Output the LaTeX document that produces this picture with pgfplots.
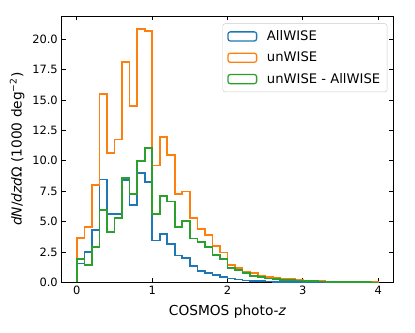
\documentclass[border=0pt]{standalone}
\usepackage{fontspec}
\setmainfont{DejaVu Sans}
\usepackage{pgfplots}
\pgfplotsset{compat=1.18}

\definecolor{tabblue}{HTML}{1F77B4}
\definecolor{taborange}{HTML}{FF7F0E}
\definecolor{tabgreen}{HTML}{2CA02C}

% histogram outlines: bin left edge, height (bins of 0.1)
\pgfplotsset{histline/.style={const plot mark left, no markers, line width=1.5pt}}

\begin{document}
\begin{tikzpicture}
  \begin{axis}[
      scale only axis,
      width=289.6pt, height=232.75pt,
      xmin=-0.2, xmax=4.2,
      ymin=0, ymax=21.9,
      xtick={0,1,2,3,4},
      ytick={0,2.5,5,7.5,10,12.5,15,17.5,20},
      tick align=inside, tick pos=both,
      major tick length=3.5pt,
      tick style={black, line width=0.7pt},
      axis line style={line width=0.7pt},
      /pgf/number format/assume math mode=true,
      yticklabel style={/pgf/number format/.cd, fixed, fixed zerofill, precision=1},
      ticklabel style={font=\fontsize{10}{12}\selectfont},
      label style={font=\fontsize{12}{14}\selectfont},
      xlabel={COSMOS photo-\textit{z}},
      xlabel style={yshift=-2pt},
      ylabel={\textit{dN}/\textit{dzd}Ω (1000 deg\textsuperscript{−2})},
      legend cell align=left,
      legend style={at={(0.982,0.972)}, anchor=north east,
        font=\fontsize{11.5}{13}\selectfont, draw=black!20,
        rounded corners=2pt, fill=white, fill opacity=0.8, text opacity=1,
        inner sep=4pt, row sep=4.5pt},
      legend image code/.code={
        \draw[#1, line width=1.1pt] (0cm,-0.14cm) rectangle (0.88cm,0.14cm);
        \path (1.1cm,0cm);},
    ]
    % AllWISE
    \addplot[histline, tabblue] coordinates {
      (0,0)(0.0,1.55)(0.1,2.51)(0.2,4.3)(0.3,8.47)(0.4,5.6)(0.5,5.6)(0.6,8.4)(0.7,6.37)(0.8,9.0)(0.9,8.25)
      (1.0,3.45)(1.1,4.0)(1.2,3.17)(1.3,2.22)(1.4,2.0)(1.5,1.35)(1.6,0.95)(1.7,0.8)(1.8,0.6)(1.9,0.47)
      (2.0,0.33)(2.1,0.25)(2.2,0.16)(2.3,0.12)(2.4,0.09)(2.5,0.07)(2.6,0.05)(2.7,0.04)(2.8,0.03)(2.9,0.03)
      (3.0,0.02)(3.1,0.02)(3.2,0.01)(3.3,0.01)(3.4,0.01)(3.5,0.01)(3.6,0.0)(3.7,0.0)(3.8,0.0)(3.9,0.0)
      (4.0,0)
    };
    \addlegendentry{AllWISE}
    % unWISE
    \addplot[histline, taborange] coordinates {
      (0,0)(0.0,3.67)(0.1,4.55)(0.2,8.0)(0.3,15.5)(0.4,10.62)(0.5,11.75)(0.6,18.1)(0.7,14.5)(0.8,20.86)(0.9,20.64)
      (1.0,9.6)(1.1,11.95)(1.2,10.5)(1.3,7.26)(1.4,7.48)(1.5,5.27)(1.6,4.41)(1.7,3.87)(1.8,2.98)(1.9,2.45)
      (2.0,1.45)(2.1,1.2)(2.2,0.9)(2.3,0.75)(2.4,0.55)(2.5,0.45)(2.6,0.38)(2.7,0.32)(2.8,0.27)(2.9,0.2)
      (3.0,0.15)(3.1,0.12)(3.2,0.1)(3.3,0.08)(3.4,0.06)(3.5,0.04)(3.6,0.03)(3.7,0.02)(3.8,0.01)(3.9,0.01)
      (4.0,0)
    };
    \addlegendentry{unWISE}
    % unWISE - AllWISE
    \addplot[histline, tabgreen] coordinates {
      (0,0)(0.0,1.9)(0.1,1.46)(0.2,2.92)(0.3,5.96)(0.4,4.17)(0.5,5.32)(0.6,8.58)(0.7,7.26)(0.8,9.96)(0.9,11.03)
      (1.0,5.6)(1.1,7.12)(1.2,6.65)(1.3,4.57)(1.4,5.05)(1.5,3.6)(1.6,3.3)(1.7,2.9)(1.8,2.27)(1.9,1.9)
      (2.0,1.16)(2.1,1.0)(2.2,0.75)(2.3,0.53)(2.4,0.42)(2.5,0.32)(2.6,0.27)(2.7,0.22)(2.8,0.19)(2.9,0.15)
      (3.0,0.12)(3.1,0.1)(3.2,0.08)(3.3,0.06)(3.4,0.05)(3.5,0.03)(3.6,0.02)(3.7,0.01)(3.8,0.01)(3.9,0.0)
      (4.0,0)
    };
    \addlegendentry{unWISE - AllWISE}
  \end{axis}
  % whitespace round the axis, as in the reference
  \path (current axis.south west) ++(-54pt,-43.75pt) (current axis.north east) ++(19pt,14pt);
\end{tikzpicture}
\end{document}
